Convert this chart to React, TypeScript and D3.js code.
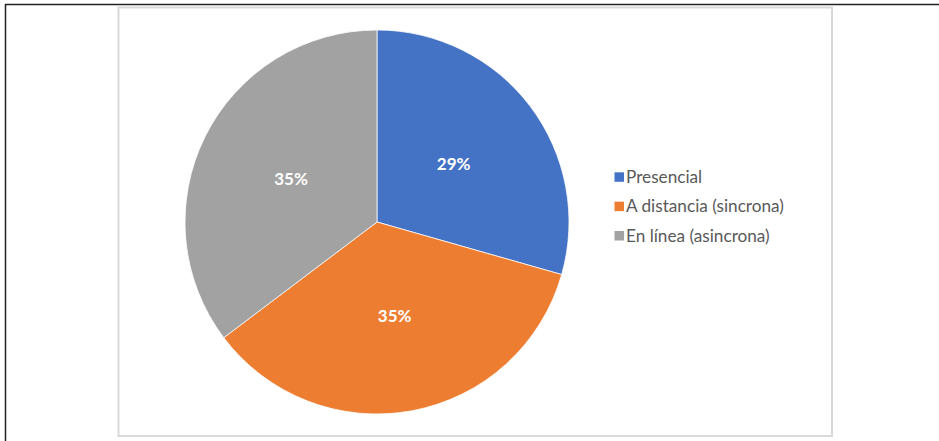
import React from "react";
import * as d3 from "d3";

const categories = ["Presencial", "A distancia (sincrona)", "En línea (asincrona)"];
const values = [5, 6, 6];
const labels = ["29%", "35%", "35%"];
const colors = ["#4472C4", "#ED7D31", "#A2A2A2"];

export default function App() {
  const W = 939, H = 441;
  const cx = 377, cy = 222, R = 192;
  const pie = d3.pie<number>().sort(null).value((d) => d);
  const arcs = pie(values);
  const arc = d3.arc<d3.PieArcDatum<number>>().innerRadius(0).outerRadius(R);
  const font = "Lato, 'Open Sans', sans-serif";
  const legendY = d3.scalePoint<string>().domain(categories).range([176.8, 235.5]);
  return (
    <svg width={W} height={H} style={{ position: "absolute", left: 0, top: 0, background: "#fff" }}>
      <line x1={5} y1={4.5} x2={W} y2={4.5} stroke="#222" strokeWidth={1.5} />
      <line x1={5.5} y1={4} x2={5.5} y2={H} stroke="#222" strokeWidth={1.5} />
      <rect x={118.5} y={7.5} width={713.5} height={428.5} fill="#fff" stroke="#d9d9d9" strokeWidth={2} />
      <g transform={`translate(${cx},${cy})`}>
        {arcs.map((a, i) => (
          <path key={i} d={arc(a) || ""} fill={colors[i]} stroke="#fff" strokeWidth={0.75} />
        ))}
        {arcs.map((a, i) => {
          const [x, y] = arc.centroid(a);
          return (
            <text key={i} x={x} y={y} dy="0.36em" textAnchor="middle" fill="#fff"
              fontFamily={font} fontSize={17} fontWeight={700}>
              {labels[i]}
            </text>
          );
        })}
      </g>
      <g>
        {categories.map((c, i) => {
          const y = legendY(c) || 0;
          return (
            <g key={c}>
              <rect x={614.5} y={y - 4.5} width={9.5} height={9.5} fill={colors[i]} />
              <text x={626} y={y} dy="0.36em" fill="#595959" fontFamily={font} fontSize={17.2}>
                {c}
              </text>
            </g>
          );
        })}
      </g>
    </svg>
  );
}
